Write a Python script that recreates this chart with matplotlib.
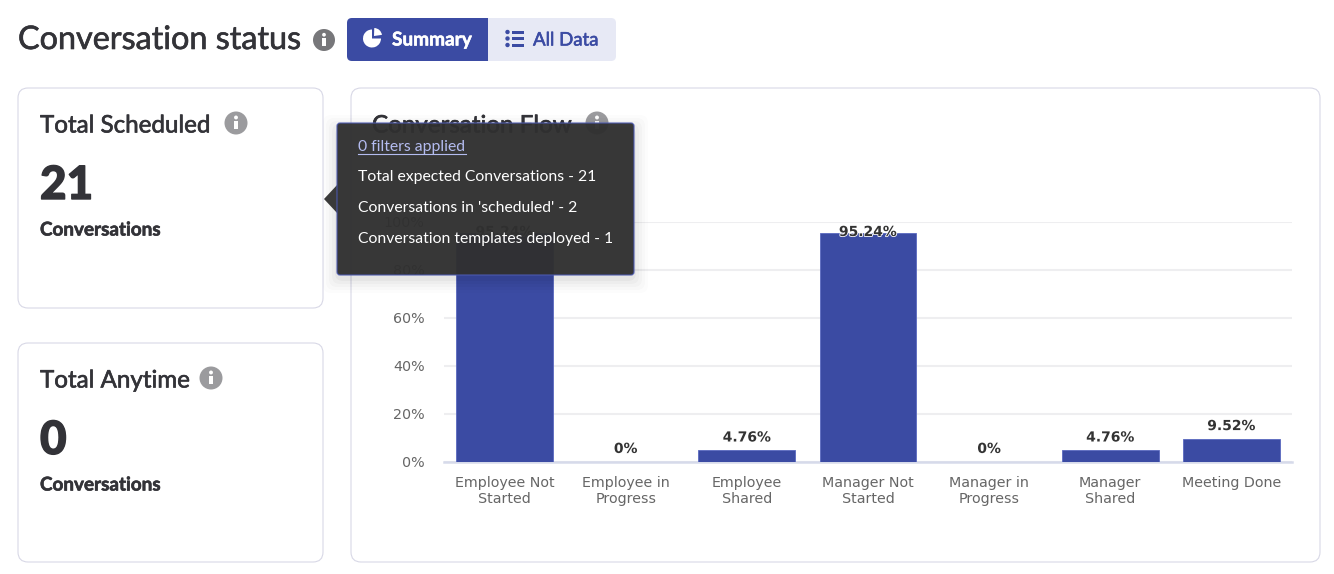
import matplotlib
matplotlib.use("Agg")
import matplotlib.pyplot as plt
import matplotlib.patheffects as pe
from matplotlib.patches import FancyBboxPatch, Circle, Wedge, Polygon, Rectangle

categories = ["Employee Not\nStarted", "Employee in\nProgress", "Employee\nShared",
              "Manager Not\nStarted", "Manager in\nProgress", "Manager\nShared", "Meeting Done"]
values = [95.24, 0, 4.76, 95.24, 0, 4.76, 9.52]
value_labels = ["95.24%", "0%", "4.76%", "95.24%", "0%", "4.76%", "9.52%"]
y_ticks = [0, 20, 40, 60, 80, 100]
y_tick_labels = ["0%", "20%", "40%", "60%", "80%", "100%"]
tooltip_lines = ["Total expected Conversations - 21", "Conversations in 'scheduled' - 2",
                 "Conversation templates deployed - 1"]

W, H = 1334, 574
BLUE = "#3b4ba3"
DARK = "#333338"
UI = "Lato"
STROKE = [pe.withStroke(linewidth=0.45, foreground=DARK)]

fig = plt.figure(figsize=(W / 100, H / 100), dpi=100, facecolor="white")


def overlay(z):
    a = fig.add_axes([0, 0, 1, 1], zorder=z)
    a.set_xlim(0, W)
    a.set_ylim(H, 0)
    a.axis("off")
    a.patch.set_alpha(0)
    return a


def rbox(a, x0, y0, x1, y1, r, **kw):
    p = FancyBboxPatch((x0 + r, y0 + r), x1 - x0 - 2 * r, y1 - y0 - 2 * r,
                       boxstyle=f"round,pad={r},rounding_size={r}", mutation_aspect=1, **kw)
    a.add_patch(p)
    return p


def info(a, x, y, r, color):
    a.add_patch(Circle((x, y), r, fc=color, ec="none"))
    a.add_patch(Circle((x, y - r * 0.48), r * 0.17, fc="white", ec="none"))
    a.add_patch(Rectangle((x - r * 0.14, y - r * 0.18), r * 0.28, r * 0.72, fc="white", ec="none"))


bg = overlay(0)
bg.text(18, 40, "Conversation status", fontsize=23.3, color=DARK, family=UI, va="center", ha="left",
        path_effects=STROKE)
info(bg, 324, 40, 11, "#77777a")

# toggle buttons
rbox(bg, 347, 18, 616, 61, 5, fc="#e7e9f5", ec="none")
rbox(bg, 347, 18, 400, 61, 5, fc=BLUE, ec="none")
bg.add_patch(Rectangle((380, 18), 108, 43, fc=BLUE, ec="none"))
bg.add_patch(Wedge((372, 38.5), 9, 0, 270, fc="white", ec="none"))
bg.add_patch(Wedge((374, 36), 8, 272, 352, fc="white", ec="none"))
bg.text(392, 40, "Summary", fontsize=13.7, color="white", family=UI, weight="bold", va="center",
        path_effects=[pe.withStroke(linewidth=0.4, foreground="white")])
for yy in (32, 38.5, 45):
    bg.add_patch(Circle((507.5, yy), 2.2, fc=BLUE, ec="none"))
    bg.add_patch(Rectangle((512, yy - 1.5), 12, 3, fc=BLUE, ec="none"))
bg.text(533, 40, "All Data", fontsize=13.4, color=BLUE, family=UI, va="center",
        path_effects=[pe.withStroke(linewidth=0.4, foreground=BLUE)])

# cards
for box in [(18, 88, 323, 308), (18, 343, 323, 562), (351, 88, 1320, 562)]:
    rbox(bg, *box, 10, fc="white", ec="#d8d8e6", lw=0.8)

for y0, title, big, ix in [(126, "Total Scheduled", "21", 236), (381, "Total Anytime", "0", 211)]:
    bg.text(40, y0, title, fontsize=17.4, color=DARK, family=UI, va="center", path_effects=STROKE)
    info(bg, ix, y0 - 3, 11.5, "#9b9b9e")
    bg.text(40, y0 + 60, big, fontsize=33, color=DARK, family=UI, weight="black", va="center",
            path_effects=[pe.withStroke(linewidth=1.0, foreground=DARK)])
    bg.text(40, y0 + 104, "Conversations", fontsize=13.6, color=DARK, family=UI, weight="bold", va="center",
            path_effects=STROKE)
bg.text(372, 126, "Conversation Flow", fontsize=17.4, color=DARK, family=UI, va="center", path_effects=STROKE)
info(bg, 597, 123, 11.5, "#9b9b9e")

# chart
x0, x1, ytop, ybot = 444, 1292, 221.7, 461.7
ax = fig.add_axes([x0 / W, 1 - ybot / H, (x1 - x0) / W, (ybot - ytop) / H], zorder=1)
ax.patch.set_alpha(0)
pos = list(range(len(categories)))
ax.bar(pos, values, width=0.8, color=BLUE, edgecolor="#5a69c0", linewidth=0.6, zorder=3)
ax.set_xlim(-0.5, len(categories) - 0.5)
ax.set_ylim(0, 100)
ax.set_yticks(y_ticks)
ax.set_yticklabels(y_tick_labels)
ax.set_xticks(pos)
ax.set_xticklabels(categories, linespacing=1.25)
ax.tick_params(axis="both", length=0, labelsize=10.3, labelcolor="#666666")
ax.tick_params(axis="x", pad=10)
ax.tick_params(axis="y", pad=14)
ax.yaxis.grid(True, color="#eeeef0", lw=1.5, zorder=0)
ax.set_axisbelow(True)
for s in ("top", "right", "left"):
    ax.spines[s].set_visible(False)
ax.spines["bottom"].set_color("#d6daea")
ax.spines["bottom"].set_linewidth(1.8)
for p, v, l in zip(pos, values, value_labels):
    ax.annotate(l, (p, v), xytext=(0, 0.8 if v > 90 else 9.2), textcoords="offset points",
                ha="center", va="center", fontsize=10, weight="bold", color="#333333", zorder=5,
                path_effects=[pe.withStroke(linewidth=1.2, foreground="white")])

# tooltip
top = overlay(2)
for g, al in [(14, .012), (11, .015), (8, .02), (5, .025), (2, .03)]:
    rbox(top, 337 - g, 123 - g + 6, 634 + g, 275 + g + 4, 8, fc="black", ec="none", alpha=al)
top.add_patch(Polygon([[338, 184], [324, 199], [338, 214]], closed=True, fc="#3a3a3a", ec="none"))
rbox(top, 337, 123, 634, 275, 3, fc="#303030", ec="#4d5ab0", lw=0.8, alpha=0.96)
top.text(358, 147, "0 filters applied", fontsize=11.3, color="#b4bcf0", family=UI, va="center")
top.plot([358, 466], [153.5, 153.5], color="#b4bcf0", lw=0.8)
for yy, t in zip((177, 208, 239), tooltip_lines):
    top.text(358, yy, t, fontsize=11.3, color="white", family=UI, va="center")

fig.savefig("out.png", dpi=100)
